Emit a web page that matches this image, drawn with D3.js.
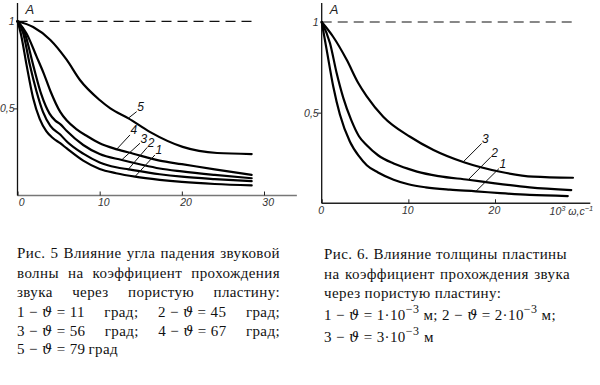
<!DOCTYPE html>
<html>
<head>
<meta charset="utf-8">
<script src="https://cdn.jsdelivr.net/npm/d3@7"></script>
<style>
  body { margin: 0; background: #fff; }
</style>
</head>
<body>
<svg id="fig" width="600" height="385"></svg>
<script>
// ---- data (x in 10^3 ω, s^-1; y = A) ----
const xTicksLeft = [0, 10, 20, 30];
const xTicksRight = [0, 10, 20];
const yTicks = [0.5, 1];
const yTickLabels = ["0,5", "1"];

// Fig. 5: angle of incidence
const leftNames = ["1", "2", "3", "4", "5"];
const left1 = [[0,1],[0.4,0.93],[1.1,0.75],[1.9,0.56],[2.7,0.44],[3.5,0.37],[4.3,0.33],[5.2,0.30],[6,0.27],[8,0.2],[10,0.152],[12,0.128],[14.3,0.108],[17.3,0.09],[20,0.078],[24,0.066],[28.5,0.058]];
const left2 = [[0,1],[0.7,0.93],[1.5,0.75],[2.3,0.6],[3.1,0.48],[4,0.4],[5.2,0.35],[6,0.31],[8,0.24],[10,0.19],[12,0.162],[13.5,0.15],[17.3,0.122],[20,0.108],[24,0.094],[28.5,0.082]];
const left3 = [[0,1],[0.9,0.93],[1.9,0.75],[2.9,0.58],[3.9,0.47],[4.6,0.43],[5.2,0.41],[6,0.37],[8,0.29],[10,0.238],[12.7,0.204],[15,0.178],[17.3,0.155],[20,0.138],[24,0.118],[28.5,0.099]];
const left4 = [[0,1],[1.1,0.93],[2.3,0.8],[3.2,0.7],[4,0.6],[5.2,0.48],[6,0.43],[7.2,0.38],[8.5,0.34],[10,0.3],[12.1,0.265],[14.1,0.24],[17.3,0.2],[20,0.18],[24,0.15],[28.5,0.118]];
const left5 = [[0,1],[1.9,0.967],[4,0.893],[6,0.778],[7.6,0.663],[10,0.548],[11.3,0.5],[13.5,0.443],[16.1,0.365],[20.1,0.279],[24.3,0.244],[28.5,0.238]];

// Fig. 6: plate thickness
const rightNames = ["1", "2", "3"];
const right1 = [[0,1],[0.58,0.845],[1.34,0.643],[2.1,0.49],[3.26,0.34],[4.3,0.26],[5.2,0.21],[6.5,0.17],[8.3,0.13],[10,0.105],[12,0.088],[14.8,0.075],[17.8,0.066],[20.6,0.056],[24,0.046],[28.4,0.04]];
const right2 = [[0,1],[0.96,0.883],[1.73,0.717],[2.5,0.58],[3.4,0.46],[4.3,0.37],[5.2,0.32],[6.5,0.265],[8.3,0.22],[10,0.19],[11,0.175],[13.5,0.15],[16.9,0.13],[20,0.11],[24,0.088],[28.8,0.073]];
const right3 = [[0,1],[1.3,0.92],[2.9,0.79],[4.2,0.665],[5.2,0.59],[7.1,0.478],[10.2,0.367],[12.9,0.294],[16.5,0.225],[20.6,0.174],[24.4,0.147],[29,0.141]];

// where the leader lines of the curve numbers start (x value on the curve)
const leftLeaderX = [14.29, 13.48, 12.68, 12.07, 13.48];
const rightLeaderX = [17.8, 16.91, 16.33];

// "|" marks the stretchable gaps of a justified line
const captionLeft = [
  "Рис.|5|Влияние|угла|падения|звуковой",
  "волны|на|коэффициент|прохождения",
  "звука|через|пористую|пластину:",
  "1 − ϑ = 11|град;|2 − ϑ = 45|град;",
  "3 − ϑ = 56|град;|4 − ϑ = 67|град;",
  "5 − ϑ = 79|град"
];
const captionRight = [
  "Рис.|6.|Влияние|толщины|пластины",
  "на|коэффициент|прохождения|звука",
  "через пористую пластину:",
  "1 − ϑ = 1·10^−3|м;|2 − ϑ = 2·10^−3|м;",
  "3 − ϑ = 3·10^−3|м"
];

const SANS = "'Liberation Sans', Arimo, sans-serif";
const SERIF = "'Liberation Serif', Tinos, 'Times New Roman', serif";

const svg = d3.select("#fig");

function drawPanel(opt) {
  const x = d3.scaleLinear().domain(opt.xDomain).range(opt.xRange);
  const y = d3.scaleLinear().domain([0, 1]).range(opt.yRange);
  const g = svg.append("g");

  // x axis
  g.append("line")
    .attr("x1", x(0)).attr("x2", x(opt.xEnd))
    .attr("y1", y(0)).attr("y2", y(0))
    .attr("stroke", opt.xAxisColor).attr("stroke-width", 1.6);
  g.append("g")
    .attr("transform", `translate(0,${y(0)})`)
    .call(d3.axisBottom(x).tickValues(opt.xTicks).tickSize(-4).tickPadding(3).tickFormat(d3.format("d")))
    .call(a => a.select(".domain").remove())
    .call(a => a.selectAll(".tick line").attr("stroke", "#222"))
    .call(a => a.selectAll(".tick text")
      .style("font-family", SANS).style("font-style", "italic").style("font-size", "10.5px")
      .attr("fill", "#333").attr("dx", opt.tickDx));

  // y axis
  g.append("line")
    .attr("x1", x(0)).attr("x2", x(0))
    .attr("y1", y(0)).attr("y2", y(1.105))
    .attr("stroke", "#111").attr("stroke-width", 1.3);
  g.append("g")
    .attr("transform", `translate(${x(0)},0)`)
    .call(d3.axisLeft(y).tickValues(yTicks).tickSize(4).tickPadding(-1).tickFormat((d, i) => yTickLabels[i]))
    .call(a => a.select(".domain").remove())
    .call(a => a.selectAll(".tick line").attr("stroke", d => d === 1 ? "none" : "#222"))
    .call(a => a.selectAll(".tick text")
      .style("font-family", SANS).style("font-style", "italic").style("font-size", "10.5px")
      .attr("fill", "#333"));

  g.append("text")
    .attr("x", x(0) + 8).attr("y", y(1.105) + 11)
    .style("font-family", SANS).style("font-style", "italic").style("font-size", "13px")
    .attr("fill", "#222")
    .text("A");

  // A = 1 dashed reference
  g.append("line")
    .attr("x1", x(0)).attr("x2", x(opt.dashEnd))
    .attr("y1", y(1)).attr("y2", y(1))
    .attr("stroke", "#111").attr("stroke-width", 1.2)
    .attr("stroke-dasharray", "10,6");

  const line = d3.line().x(d => x(d[0])).y(d => y(d[1])).curve(d3.curveMonotoneX);
  g.append("g")
    .attr("fill", "none").attr("stroke", "#000").attr("stroke-width", 2.2)
    .attr("stroke-linecap", "round").attr("stroke-linejoin", "round")
    .selectAll("path").data(opt.series).join("path")
    .attr("d", line);

  // curve numbers with leaders
  opt.series.forEach((s, i) => {
    const lx = opt.leaderX[i];
    const j = d3.bisector(d => d[0]).left(s, lx);
    const a = s[j - 1], b = s[j];
    const ly = a[1] + (b[1] - a[1]) * (lx - a[0]) / (b[0] - a[0]);
    const px = x(lx), py = y(ly);
    const [dx, dy] = opt.leaderOff[i];
    g.append("line")
      .attr("x1", px).attr("y1", py).attr("x2", px + dx).attr("y2", py + dy)
      .attr("stroke", "#111").attr("stroke-width", 1);
    g.append("text")
      .attr("x", px + dx + 0.5).attr("y", py + dy - 0.5)
      .style("font-family", SANS).style("font-style", "italic").style("font-size", "12px")
      .attr("fill", "#111")
      .text(opt.names[i]);
  });
  return { g, x, y };
}

drawPanel({
  xDomain: [0, 30], xRange: [17.5, 264], yRange: [195.5, 21.3],
  xEnd: 34, dashEnd: 28.8, xTicks: xTicksLeft, tickDx: "0.35em", xAxisColor: "#777",
  series: [left1, left2, left3, left4, left5], names: leftNames, leaderX: leftLeaderX,
  leaderOff: [[20, -21.7], [19, -22], [18.3, -16.7], [13.3, -14.3], [8.4, -6.6]]
});

const right = drawPanel({
  xDomain: [0, 20], xRange: [321.7, 495], yRange: [203.3, 22],
  xEnd: 31, dashEnd: 28.9, xTicks: xTicksRight, tickDx: "-0.1em", xAxisColor: "#222",
  series: [right1, right2, right3], names: rightNames, leaderX: rightLeaderX,
  leaderOff: [[23, -22.7], [22.4, -22.6], [18.4, -18.4]]
});

// unit label on the right x axis
const unit = right.g.append("text")
  .attr("x", right.x(26.3)).attr("y", right.y(0) + 12)
  .style("font-family", SANS).style("font-style", "italic").style("font-size", "10.5px")
  .attr("fill", "#333");
unit.append("tspan").text("10");
unit.append("tspan").attr("dy", -4).style("font-size", "7.5px").text("3");
unit.append("tspan").attr("dy", 4).text(" ω,с");
unit.append("tspan").attr("dy", -4).style("font-size", "7.5px").text("−1");

// ---- captions ----
function rich(t, s) {
  s.split(/(ϑ|\^[^ ]+)/).filter(p => p.length).forEach(p => {
    if (p === "ϑ") {
      t.append("tspan").style("font-family", "'DejaVu Serif', serif").style("font-style", "italic").style("font-size", "14px").text(p);
    } else if (p[0] === "^") {
      t.append("tspan").attr("dy", -7).style("font-size", "12px").text(p.slice(1));
      t.append("tspan").attr("dy", 7).text("");
    } else {
      t.append("tspan").text(p);
    }
  });
}

function caption(lines, x0, ends, baselines) {
  const g = svg.append("g").attr("fill", "#111");
  lines.forEach((ln, i) => {
    const nodes = ln.split("|").map(tk => {
      const t = g.append("text").attr("y", baselines[i])
        .style("font-family", SERIF).style("font-size", "15px").style("letter-spacing", "0.4px");
      rich(t, tk);
      return t;
    });
    const w = nodes.map(n => n.node().getComputedTextLength());
    const gap = nodes.length > 1 ? (ends[i] - x0 - d3.sum(w)) / (nodes.length - 1) : 0;
    let cx = x0;
    nodes.forEach((n, k) => { n.attr("x", cx); cx += w[k] + gap; });
  });
}

caption(captionLeft, 17, [280, 280, 280, 280, 280, 118], [258, 278, 297, 316.5, 335.5, 354]);
caption(captionRight, 324, [567, 570, 0, 556, 434], [259, 279, 297.5, 320, 342]);
</script>
</body>
</html>
